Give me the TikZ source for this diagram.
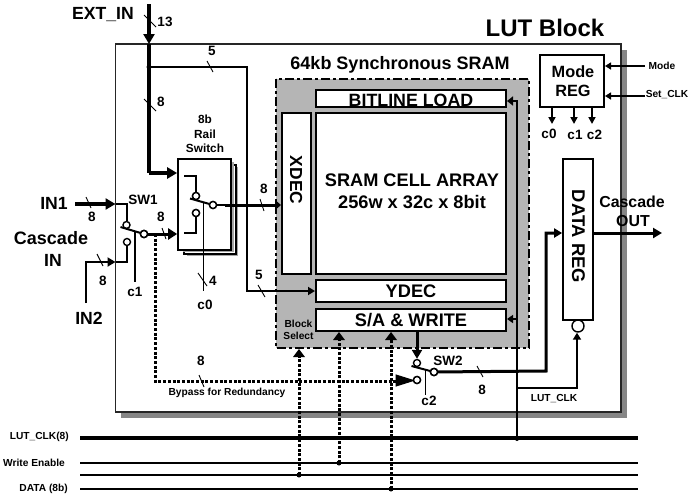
\documentclass[tikz,border=0pt]{standalone}
\usepackage{fontspec}
\setmainfont{Liberation Sans}
\usetikzlibrary{arrows.meta}
\newcommand{\fs}[1]{\fontsize{#1}{#1}\selectfont\bfseries}
\tikzset{
  x=1pt,y=-1pt,
  box/.style={draw=black,fill=white,line width=2pt,inner sep=0pt,align=center},
  lab/.style={inner sep=0pt,align=center,font=\fs{13.5}},
  labs/.style={inner sep=0pt,align=center,font=\fs{10.2}},
  labb/.style={inner sep=0pt,align=center,font=\fs{17.6}},
  labm/.style={inner sep=0pt,align=center,font=\fs{18.2}},
  contact/.style={circle,draw=black,fill=white,line width=1.4pt,inner sep=0pt,minimum size=7pt},
  wire/.style={line width=2pt,-{Triangle[length=7pt,width=8pt]}},
  plain/.style={line width=2pt},
  bus/.style={line width=3.2pt,-{Triangle[length=10pt,width=11pt]}},
  busplain/.style={line width=3.2pt},
  dot bus/.style={line width=3pt,dash pattern=on 3pt off 1.7pt,-{Triangle[length=8pt,width=12pt,line width=0pt]}},
  dot line/.style={line width=3pt,dash pattern=on 3pt off 1.7pt},
  ticka/.style={line width=.9pt},
  thin wire/.style={line width=1.1pt},
  rail/.style={line width=2pt},
  joint/.style={circle,fill=black,inner sep=0pt,minimum size=5pt}
}
\newcommand{\tick}[4]{\draw[ticka] (#1,#2) -- (#3,#4);}
\begin{document}
\begin{tikzpicture}
\useasboundingbox (0,0) rectangle (699,493);
% outer block with shadow
\fill[gray!95] (121,50) rectangle (627,418);
\draw[fill=white,line width=1.1pt,draw=black!85] (115.5,44) rectangle (621,412);
% SRAM
\draw[fill=black!29,line width=2.8pt,dash pattern=on 9pt off 3pt on 3pt off 3pt] (276,79) rectangle (529,348);
\node[box,minimum width=190pt,minimum height=17pt] (bitline) at (411,98.5) {};
\node[box,minimum width=190pt,minimum height=161pt] (array) at (411,193.5) {};
\node[box,minimum width=29pt,minimum height=161pt] (xdec) at (296.5,193.5) {};
\node[box,minimum width=190pt,minimum height=22pt] (ydec) at (411,291) {};
\node[box,minimum width=190pt,minimum height=22pt] (sa) at (411,320) {};
\node[labm,font=\fs{17.8}] (bltext) at (411,100) {BITLINE LOAD};
\node[labm,rotate=-90,font=\fs{17.4}] (xdectext) at (296,180) {XDEC};
\node[labm] (celltext) at (412,180) {SRAM CELL ARRAY};
\node[labm] (celltext2) at (412,202) {256w x 32c x 8bit};
\node[labm] (ydectext) at (411,291) {YDEC};
\node[labm] (satext) at (411,320) {S/A \& WRITE};
\node[lab,font=\fs{18}] (sramtitle) at (400,64.5) {64kb Synchronous SRAM};
\node[labs] (blocksel) at (298.5,330) {Block\\[2pt]Select};
% mode reg / data reg
\node[box,minimum width=64pt,minimum height=52pt] (mode) at (572,81) {};
\node[labm,font=\fs{16.3}] (modetext) at (573,81) {Mode\\[3pt]REG};
\node[box,line width=1.7pt,minimum width=30pt,minimum height=161pt] (datareg) at (578,239.5) {};
\node[labm,rotate=-90,font=\fs{18.4}] (dataregtext) at (578.5,236.5) {DATA REG};
\node[contact,minimum size=12pt] (bubble) at (578,326) {};
% rail switch
\fill[gray!70] (187,167) rectangle (238,256);
\draw[fill=white,line width=1.5pt] (184,165) rectangle (236,254);
\fill[gray!70] (183,162) rectangle (234,252);
\node[box,line width=1.7pt,minimum width=53pt,minimum height=91pt] (rail) at (204.5,204.5) {};
\node[lab,font=\fs{11.8}] (railtext) at (205,134) {8b\\[2.5pt]Rail\\[2.5pt]Switch};
% rail switch contents
\node[contact] (ra) at (196,196) {};
\node[contact] (rb) at (196,213) {};
\node[contact] (rc) at (213,205) {};
\coordinate (ra0) at (184,176); \coordinate (rb0) at (184,233);
\coordinate (rarm) at (190,198.5); \coordinate (rout) at (225,205);
\draw[rail] (ra0) -| (ra);
\draw[rail] (rb0) -| (rb);
\draw[rail] (rarm) -- (rc);
\draw[rail] (rc) -- (rout);
\coordinate (c0end) at (203.5,291); \coordinate (c0top) at (203.5,202);
\draw[thin wire] (c0top) -- (c0end);
\node[contact] at (196,196) {}; \node[contact] at (196,213) {}; \node[contact] at (213,205) {};
% SW1
\node[contact] (sa1) at (126.5,225) {};
\node[contact] (sb1) at (127,242) {};
\node[contact] (sc1) at (144,234) {};
\coordinate (sarm1) at (120.5,227);
\draw[rail] (sarm1) -- (sc1);
\node[contact] at (144,234) {};
\coordinate (c1top) at (135,232); \coordinate (c1end) at (135,282);
\draw[thin wire] (c1top) -- (c1end);
% EXT_IN
\coordinate (ext0) at (149,4); \coordinate (extblock) at (149,44);
\coordinate (extj) at (149,67); \coordinate (extturn) at (149,173);
\draw[bus] (ext0) -- (extblock);
\draw[busplain] (extblock) -- (extj) -- (extturn);
\draw[bus] (extturn) -- (rail.west |- extturn);
\node[joint] (j1) at (extj) {};
\coordinate (t5) at (247,67); \coordinate (t5b) at (247,291);
\draw[wire] (extj) -- (t5) -- (t5b) -- (ydec.west |- t5b);
% IN1 / IN2
\coordinate (in1s) at (75,204); \coordinate (in1b) at (115.5,204); \coordinate (in1c) at (126.5,204);
\draw[bus] (in1s) -- (in1b);
\draw[rail] (in1b) -- (in1c) -- (sa1);
\coordinate (in2s) at (86,303); \coordinate (in2t) at (86,262); \coordinate (in2b) at (115.5,262); \coordinate (in2c) at (127,262);
\draw[line width=2.8pt,-{Triangle[length=8pt,width=9pt]}] (in2s) -- (in2t) -- (in2b);
\draw[plain] (in2b) -- (in2c) -- (sb1);
\draw[line width=3pt,-{Triangle[length=9pt,width=11pt]}] (sc1) -- (rail.west |- sc1);
\node[contact] at (144,234) {};
% rail to XDEC
\draw[line width=3pt,-{Triangle[length=6pt,width=10pt]}] (rout) -- (xdec.west |- rout);
% SW2
\node[contact] (sa2) at (417,363) {};
\node[contact] (sb2) at (417,380) {};
\node[contact] (sc2) at (434,372) {};
\coordinate (sarm2) at (411.5,366);
\draw[rail] (sarm2) -- (sc2);
\node[contact] at (434,372) {};
\coordinate (c2top) at (425.5,369); \coordinate (c2end) at (425.5,395);
\draw[thin wire] (c2top) -- (c2end);
\coordinate (saout) at (417,331);
\draw[line width=3pt,-{Triangle[length=9pt,width=10pt]}] (saout) -- (sa2.north);
\coordinate (sw2turn) at (546,371); \coordinate (sw2up) at (546,233);
\draw[line width=3pt,-{Triangle[length=8pt,width=9pt]}] (sc2) -- (sw2turn) -- (sw2up) -- (datareg.west |- sw2up);
\node[contact] at (434,372) {};
% bus lines
\coordinate (b1l) at (80,438); \coordinate (b1r) at (638,438);
\coordinate (b2l) at (80,463); \coordinate (b2r) at (638,463);
\coordinate (b3l) at (80,475); \coordinate (b3r) at (638,475);
\coordinate (b4l) at (80,489); \coordinate (b4r) at (638,489);
\draw[line width=3.2pt] (b1l) -- (b1r);
\draw[line width=1.3pt] (b2l) -- (b2r);
\draw[line width=2pt] (b3l) -- (b3r);
\draw[line width=2pt] (b4l) -- (b4r);
% LUT_CLK riser
\coordinate (clk0) at (517,439); \coordinate (clktop) at (517,101); \coordinate (clksa) at (517,319); \coordinate (clkreg) at (517,388); \coordinate (clkregb) at (577,388);
\draw[line width=2.8pt,-{Triangle[length=6pt,width=9pt]}] (clk0) -- (clktop) -- (bitline.east |- clktop);
\draw[line width=2pt,-{Triangle[length=6pt,width=8pt]}] (clksa) -- (sa.east |- clksa);
\draw[line width=2.2pt,-{Triangle[length=7pt,width=8pt]}] (clkreg) -- (clkregb) -- (bubble.south -| clkregb);
\node[joint,minimum size=4pt] (j2) at (clk0) {};
% outputs
\coordinate (outend) at (662,233);
\draw[line width=3pt,-{Triangle[length=9pt,width=10pt]}] (datareg.east |- outend) -- (outend);
% mode inputs
\coordinate (modein) at (645,66); \coordinate (setin) at (645,96);
\draw[line width=1.6pt,-{Triangle[length=6pt,width=7pt]}] (modein) -- (mode.east |- modein);
\draw[line width=1.6pt,-{Triangle[length=6pt,width=7pt]}] (setin) -- (mode.east |- setin);
\foreach \xx/\nm in {552/ma,574/mb,592/mc}{
  \coordinate (\nm) at (\xx,124);
  \draw[line width=1.7pt,-{Triangle[length=7pt,width=7pt]}] (\nm |- mode.south) -- (\nm);
}
% dotted
\coordinate (byp0) at (155,234); \coordinate (byp1) at (155,381);
\draw[dot line] (byp0) -- (byp1) -- (396,381);
\draw[line width=1pt,fill=black] (413.5,380.5) -- (396,375) -- (396,386) -- cycle;
\node[contact] at (417,380) {};
\coordinate (d1) at (299,475); \coordinate (d2) at (339,463); \coordinate (d3) at (391,489);
\coordinate (d1t) at (299,349);
\draw[dot bus] (d1) -- (d1t);
\draw[dot bus] (d2) -- (d2 |- sa.south);
\draw[dot bus] (d3) -- (d3 |- sa.south);
\node[joint] at (d1) {}; \node[joint] at (d2) {}; \node[joint] at (d3) {};
% ticks
\tick{144}{15}{156}{27}
\tick{207}{61}{213}{72}
\tick{144}{99}{156}{111}
\tick{86}{197}{91}{208}
\tick{162}{228}{166}{239}
\tick{97}{254}{103}{266}
\tick{198}{273}{207}{286}
\tick{260}{199}{264}{211}
\tick{258}{285}{265}{297}
\tick{199}{375}{204}{387}
\tick{477}{366}{483}{377}
% labels
\node[labb,font=\fs{24}] (title) at (545,28) {LUT Block};
\node[labb] (extin) at (103,14.5) {EXT\_IN};
\node[labb] (in1) at (54,203) {IN1};
\node[labb,font=\fs{18}] (casc) at (51,238) {Cascade};
\node[labb] (cascin) at (53,260) {IN};
\node[labb] (in2) at (89,318) {IN2};
\node[lab] (n13) at (165,22) {13};
\node[lab] (n5a) at (212,51) {5};
\node[lab] (n8a) at (161,102) {8};
\node[lab] (n8b) at (92,217) {8};
\node[lab] (n8c) at (161,217) {8};
\node[lab] (n8d) at (103,281) {8};
\node[lab] (n8e) at (264,189) {8};
\node[lab] (n4) at (213,281) {4};
\node[lab] (n5b) at (259,275) {5};
\node[lab] (n8f) at (201,361) {8};
\node[lab] (n8g) at (482,390) {8};
\node[lab] (sw1) at (143,200) {SW1};
\node[lab] (sw2) at (448,361) {SW2};
\node[lab] (c1) at (135,292) {c1};
\node[lab] (c0) at (205,305) {c0};
\node[lab] (c2) at (429,401) {c2};
\node[lab] (tc0) at (549,134) {c0};
\node[lab] (tc1) at (575,135) {c1};
\node[lab] (tc2) at (594.5,135) {c2};
\node[labs] (bypass) at (227,393) {Bypass for Redundancy};
\node[labs] (lutclk) at (554,399) {LUT\_CLK};
\node[labs] (modelab) at (662,65.5) {Mode};
\node[labs] (setlab) at (667,94.5) {Set\_CLK};
\node[lab,font=\fs{15.9}] (cout) at (632,202) {Cascade};
\node[lab,font=\fs{15.9}] (cout2) at (633,221) {OUT};
\node[labs,anchor=east] (l1) at (69,437) {LUT\_CLK(8)};
\node[labs,anchor=east] (l2) at (65,462.5) {Write Enable};
\node[labs,anchor=east] (l3) at (68,488.5) {DATA (8b)};
\end{tikzpicture}
\end{document}
